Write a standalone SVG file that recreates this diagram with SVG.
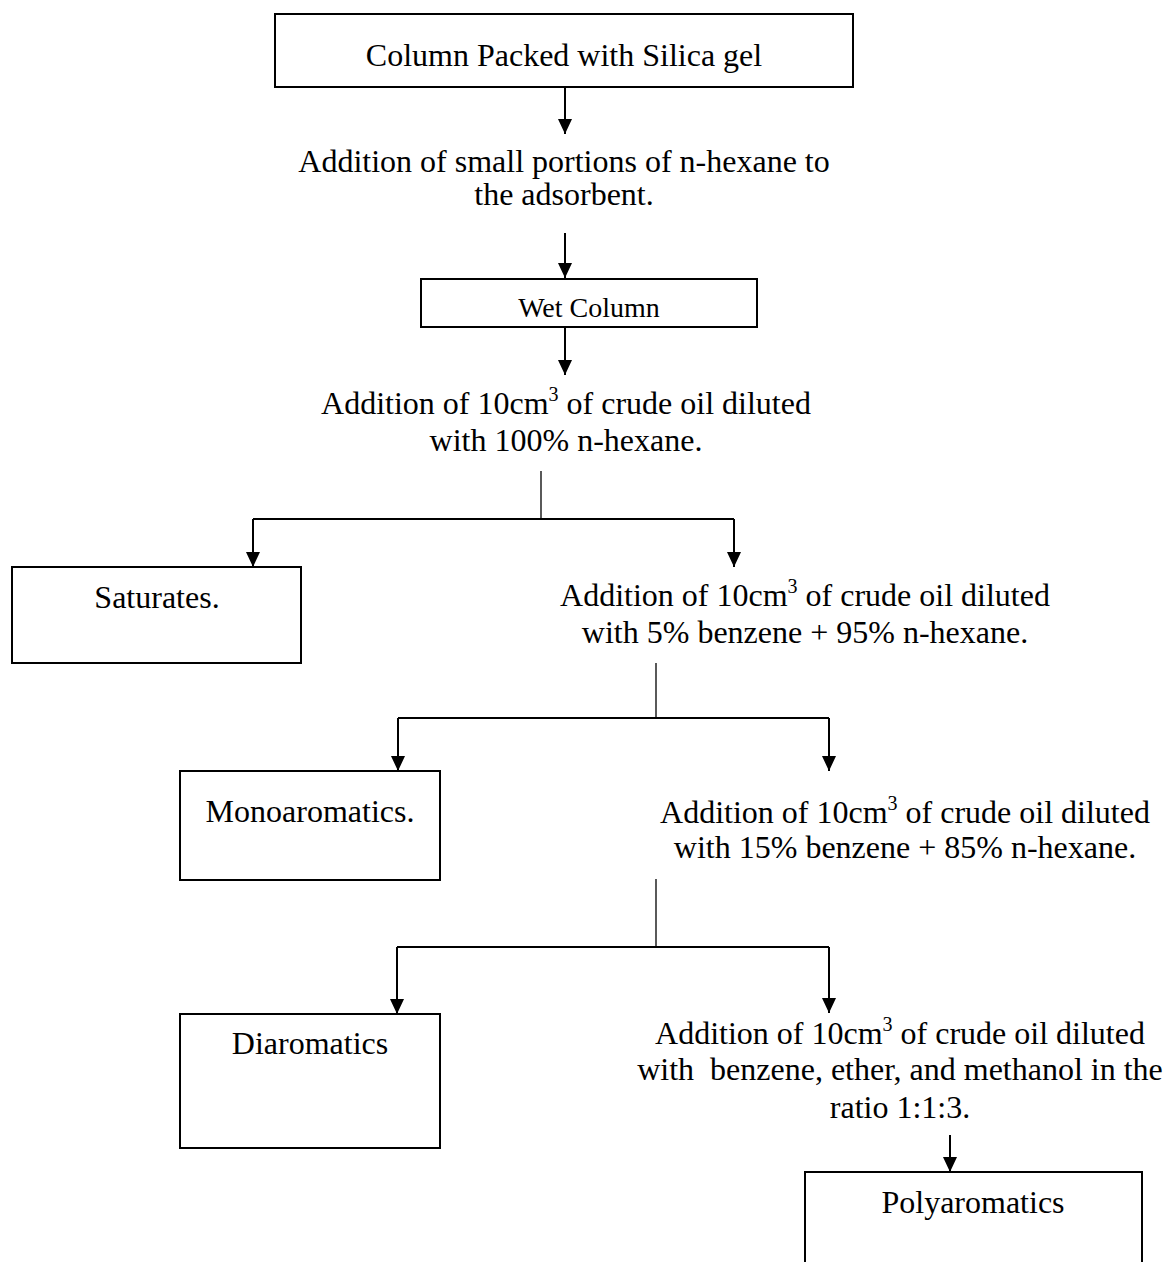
<svg xmlns="http://www.w3.org/2000/svg" width="1166" height="1262" viewBox="0 0 1166 1262">
<style>
text{font-family:"Liberation Serif","Times New Roman",serif;font-size:32px;fill:#000;text-anchor:middle}
.box{fill:#fff;stroke:#000;stroke-width:2}
.ln{fill:none;stroke:#000;stroke-width:2}
.stem{fill:none;stroke:#000;stroke-width:1.3}
.arr{fill:none;stroke:#000;stroke-width:2;marker-end:url(#ah)}
.sup{font-size:20px}
</style>
<defs>
<marker id="ah" markerUnits="userSpaceOnUse" markerWidth="15" markerHeight="14" refX="15" refY="7" orient="auto" viewBox="0 0 15 14">
<path d="M0,0 L15,7 L0,14 z" fill="#000"/>
</marker>
</defs>
<rect width="1166" height="1262" fill="#fff"/>
<g id="connectors">
<line class="arr" x1="565" y1="87" x2="565" y2="134"/>
<line class="arr" x1="565" y1="233" x2="565" y2="278"/>
<line class="arr" x1="565" y1="327" x2="565" y2="375"/>
<line class="stem" x1="541" y1="471" x2="541" y2="519"/>
<polyline class="ln" points="253,519 734,519"/>
<line class="arr" x1="253" y1="519" x2="253" y2="567"/>
<line class="arr" x1="734" y1="519" x2="734" y2="567"/>
<line class="stem" x1="656" y1="663" x2="656" y2="718"/>
<polyline class="ln" points="398,718 829,718"/>
<line class="arr" x1="398" y1="718" x2="398" y2="771"/>
<line class="arr" x1="829" y1="718" x2="829" y2="771"/>
<line class="stem" x1="656" y1="879" x2="656" y2="947"/>
<polyline class="ln" points="397,947 829,947"/>
<line class="arr" x1="397" y1="947" x2="397" y2="1014"/>
<line class="arr" x1="829" y1="947" x2="829" y2="1013"/>
<line class="arr" x1="950" y1="1135" x2="950" y2="1172"/>
</g>
<g id="n-column">
<rect class="box" x="275" y="14" width="578" height="73"/>
<text x="564" y="66">Column Packed with Silica gel</text>
</g>
<g id="n-hexane">
<text x="564" y="172">Addition of small portions of n-hexane to</text>
<text x="564" y="205">the adsorbent.</text>
</g>
<g id="n-wet">
<rect class="box" x="421" y="279" width="336" height="48"/>
<text x="589" y="317" style="font-size:28px">Wet Column</text>
</g>
<g id="n-add1">
<text x="566" y="414">Addition of 10cm<tspan class="sup" dy="-13">3</tspan><tspan dy="13"> of crude oil diluted</tspan></text>
<text x="566" y="451">with 100% n-hexane.</text>
</g>
<g id="n-saturates">
<rect class="box" x="12" y="567" width="289" height="96"/>
<text x="157" y="608">Saturates.</text>
</g>
<g id="n-add2">
<text x="805" y="606">Addition of 10cm<tspan class="sup" dy="-13">3</tspan><tspan dy="13"> of crude oil diluted</tspan></text>
<text x="805" y="643">with 5% benzene + 95% n-hexane.</text>
</g>
<g id="n-mono">
<rect class="box" x="180" y="771" width="260" height="109"/>
<text x="310" y="822">Monoaromatics.</text>
</g>
<g id="n-add3">
<text x="905" y="823">Addition of 10cm<tspan class="sup" dy="-13">3</tspan><tspan dy="13"> of crude oil diluted</tspan></text>
<text x="905" y="858">with 15% benzene + 85% n-hexane.</text>
</g>
<g id="n-di">
<rect class="box" x="180" y="1014" width="260" height="134"/>
<text x="310" y="1054">Diaromatics</text>
</g>
<g id="n-add4">
<text x="900" y="1044">Addition of 10cm<tspan class="sup" dy="-13">3</tspan><tspan dy="13"> of crude oil diluted</tspan></text>
<text x="900" y="1080" xml:space="preserve">with  benzene, ether, and methanol in the</text>
<text x="900" y="1118">ratio 1:1:3.</text>
</g>
<g id="n-poly">
<rect class="box" x="805" y="1172" width="337" height="110"/>
<text x="973" y="1213">Polyaromatics</text>
</g>
</svg>
